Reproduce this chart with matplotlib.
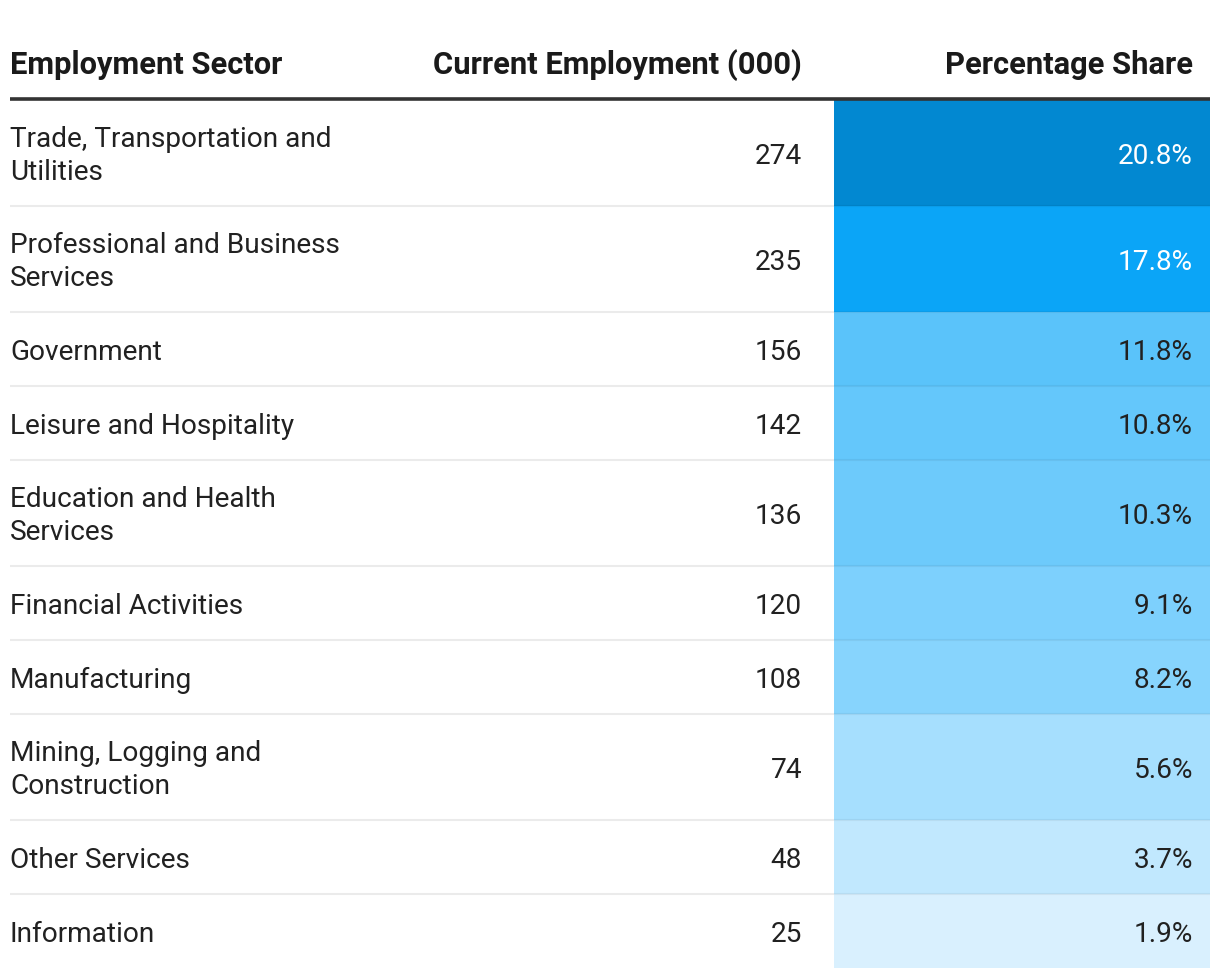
import matplotlib
matplotlib.use("Agg")
import matplotlib.pyplot as plt
from matplotlib.patches import Rectangle

sectors = ["Trade, Transportation and\nUtilities", "Professional and Business\nServices",
           "Government", "Leisure and Hospitality", "Education and Health\nServices",
           "Financial Activities", "Manufacturing", "Mining, Logging and\nConstruction",
           "Other Services", "Information"]
employment = [274, 235, 156, 142, 136, 120, 108, 74, 48, 25]
share = [20.8, 17.8, 11.8, 10.8, 10.3, 9.1, 8.2, 5.6, 3.7, 1.9]
headers = ["Employment Sector", "Current Employment (000)", "Percentage Share"]

cell_colors = ["#0288D1", "#0BA5F7", "#5AC3FA", "#64C7FB", "#6DCAFB",
               "#7DD0FD", "#87D4FD", "#A6DFFE", "#C1E8FE", "#D9F0FE"]
text_on = ["white", "white"] + ["#212121"] * 8

W, H = 1220, 978
fig = plt.figure(figsize=(W / 100, H / 100), dpi=100)
ax = fig.add_axes([0, 0, 1, 1])
ax.set_xlim(0, W)
ax.set_ylim(H, 0)
ax.axis("off")

FONT = "Roboto"
FS = 20.2
HFS = 22.2
left, right = 10, 1210
num_x, pct_x = 802, 1193
pct_left = 834
dy = 2

for hx, ha, h in zip([left, num_x, pct_x], ["left", "right", "right"], headers):
    ax.text(hx, 64 + 1, h, ha=ha, va="center", fontsize=HFS, fontweight="bold",
            family=FONT, color="#1a1a1a")

y = 101
for i, (s, e, p) in enumerate(zip(sectors, employment, share)):
    nlines = s.count("\n") + 1
    h = 74 if nlines == 1 else 106
    ax.add_patch(Rectangle((pct_left, y), right - pct_left, h, facecolor=cell_colors[i],
                           edgecolor="none", zorder=1))
    cy = y + h / 2 + dy
    ax.text(left, cy, s, ha="left", va="center", fontsize=FS, family=FONT,
            color="#212121", linespacing=1.24, zorder=3)
    ax.text(num_x, cy, f"{e}", ha="right", va="center", fontsize=FS, family=FONT,
            color="#212121", zorder=3)
    ax.text(pct_x, cy, f"{p:.1f}%", ha="right", va="center", fontsize=FS, family=FONT,
            color=text_on[i], zorder=3)
    y += h
    if i < len(sectors) - 1:
        ax.plot([left, pct_left], [y, y], color="#EBEBEB", lw=1.5, zorder=2,
                solid_capstyle="butt")
        ax.plot([pct_left, right], [y, y], color="black", alpha=0.05, lw=1.5, zorder=2,
                solid_capstyle="butt")

ax.plot([left, right], [99.5, 99.5], color="#333333", lw=2.6, zorder=4,
        solid_capstyle="butt")

fig.savefig("out.png", dpi=100, facecolor="white")
